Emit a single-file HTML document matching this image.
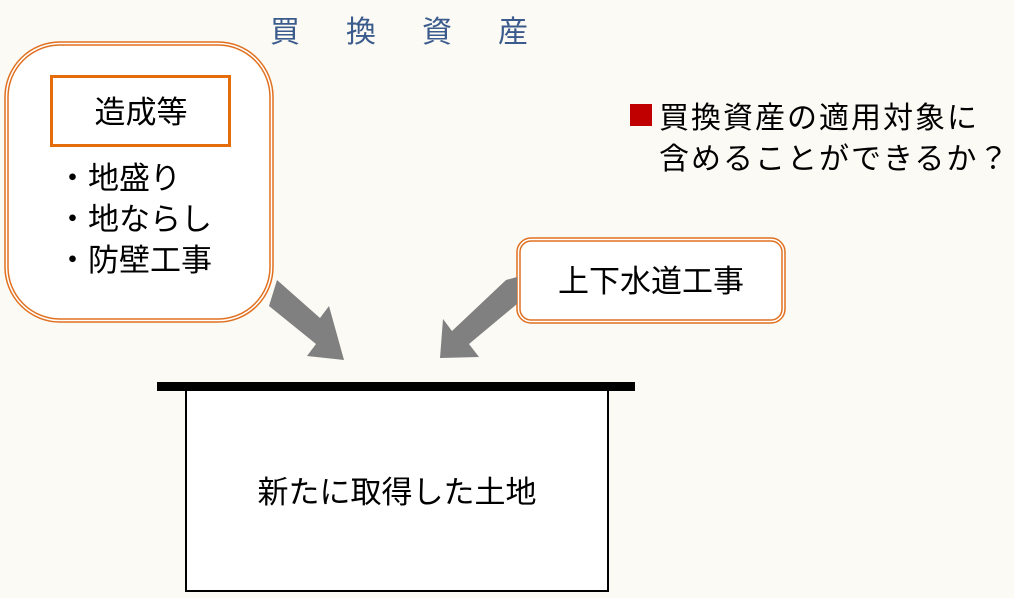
<!DOCTYPE html>
<html><head><meta charset="utf-8"><style>
html,body{margin:0;padding:0;background:#fbfaf5;}
svg{display:block}
text{font-family:"Liberation Sans","Noto Sans CJK JP",sans-serif;}
</style></head><body>
<svg width="1014" height="598" viewBox="0 0 1014 598" xmlns="http://www.w3.org/2000/svg">
<rect width="1014" height="598" fill="#fbfaf5"/>
<text x="270" y="42" font-size="30" fill="#3b5b8c" letter-spacing="46">買換資産</text>
<!-- left box -->
<rect x="5" y="42" width="268" height="280" rx="55" fill="#fff" stroke="#e07020" stroke-width="1.5"/>
<rect x="8" y="45" width="262" height="274" rx="52" fill="#fff" stroke="#e07020" stroke-width="1.5"/>
<rect x="51.5" y="76.5" width="178" height="69" fill="#fff" stroke="#e46c0a" stroke-width="3"/>
<text x="141" y="123" font-size="31" text-anchor="middle" fill="#000">造成等</text>
<text x="57" y="189" font-size="31" fill="#000">・地盛り</text>
<text x="57" y="230" font-size="31" fill="#000">・地ならし</text>
<text x="57" y="271" font-size="31" fill="#000">・防壁工事</text>
<!-- right small box -->
<rect x="517" y="238" width="268" height="85" rx="14" fill="#fff" stroke="#e07020" stroke-width="1.5"/>
<rect x="520" y="241" width="262" height="79" rx="11" fill="#fff" stroke="#e07020" stroke-width="1.5"/>
<text x="651" y="292" font-size="31" text-anchor="middle" fill="#000">上下水道工事</text>
<!-- arrows -->
<polygon points="277,280 320,318 329,306 344,360 307,356 316,344 269,306" fill="#808080"/>
<polygon points="517,277 517,304 469,344 479,357 440,358 443,319 452,331 506,280" fill="#808080"/>
<!-- land -->
<rect x="186" y="388" width="422" height="203" fill="#fff" stroke="#000" stroke-width="2"/>
<rect x="157" y="382" width="478" height="9" fill="#000"/>
<text x="397" y="503" font-size="31" text-anchor="middle" fill="#000">新たに取得した土地</text>
<!-- right text -->
<rect x="630" y="104" width="22" height="22" fill="#c00000"/>
<text x="659" y="128" font-size="30" fill="#000" letter-spacing="2">買換資産の適用対象に</text>
<text x="659" y="169" font-size="30" fill="#000" letter-spacing="2">含めることができるか？</text>
</svg>
</body></html>
